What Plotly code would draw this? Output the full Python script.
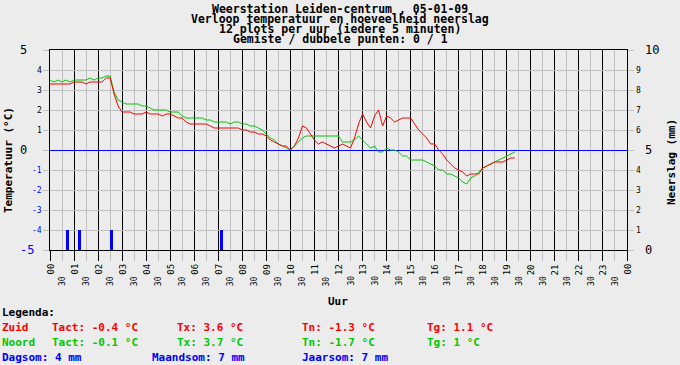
import plotly.graph_objects as go

# ---------------- data ----------------
step_min = 10  # samples every 10 minutes starting 00:00
zuid_temp = [
    3.3, 3.3, 3.3, 3.3, 3.3, 3.3,
    3.4, 3.4, 3.4, 3.3, 3.4, 3.4,
    3.4, 3.4, 3.6, 3.6, 2.8, 2.2,
    1.9, 1.9, 1.9, 1.8, 1.8, 1.8,
    1.9, 1.8, 1.8, 1.8, 1.7, 1.8,
    1.8, 1.7, 1.6, 1.6, 1.4, 1.3,
    1.3, 1.3, 1.3, 1.3, 1.2, 1.1,
    1.1, 1.1, 1.1, 1.1, 1.1, 1.1,
    1.0, 1.0, 0.9, 0.9, 0.8, 0.8,
    0.7, 0.5, 0.4, 0.3, 0.2, 0.2,
    0.0, 0.2, 0.6, 1.2, 1.1, 0.8,
    0.5, 0.3, 0.4, 0.3, 0.2, 0.1,
    0.2, 0.3, 0.2, 0.1, 0.6, 1.3,
    1.8, 1.4, 1.1, 1.7, 2.0, 1.2,
    1.7, 1.6, 1.4, 1.5, 1.6, 1.6,
    1.6, 1.3, 1.0, 0.8, 0.6, 0.3,
    0.3, 0.0, -0.2, -0.5, -0.7, -0.9,
    -1.0, -1.1, -1.3, -1.2, -1.2, -1.2,
    -0.9, -0.8, -0.7, -0.6, -0.6, -0.6,
    -0.5, -0.4, -0.4,
]
noord_temp = [
    3.5, 3.4, 3.5, 3.4, 3.5, 3.4,
    3.5, 3.5, 3.5, 3.5, 3.6, 3.5,
    3.6, 3.6, 3.7, 3.7, 2.9, 2.5,
    2.4, 2.3, 2.3, 2.3, 2.3, 2.2,
    2.2, 2.1, 2.0, 2.0, 2.0, 2.0,
    1.9, 1.9, 1.9, 1.7, 1.6, 1.6,
    1.6, 1.6, 1.6, 1.5, 1.5, 1.4,
    1.4, 1.4, 1.4, 1.3, 1.4, 1.4,
    1.3, 1.3, 1.2, 1.2, 1.1, 1.0,
    0.8, 0.6, 0.5, 0.3, 0.2, 0.1,
    0.0, 0.2, 0.4, 0.6, 0.7, 0.7,
    0.7, 0.7, 0.7, 0.7, 0.7, 0.7,
    0.7, 0.4, 0.4, 0.4, 0.5, 0.7,
    0.5, 0.3, 0.1, 0.2, -0.1, -0.1,
    0.1, 0.0, 0.0, -0.1, -0.3, -0.3,
    -0.5, -0.5, -0.5, -0.5, -0.6, -0.7,
    -0.8, -1.0, -1.0, -1.2, -1.2, -1.3,
    -1.4, -1.6, -1.7, -1.4, -1.3, -1.1,
    -0.9, -0.8, -0.7, -0.6, -0.5, -0.4,
    -0.3, -0.2, -0.1,
]
rain_hours = [0.73, 1.23, 2.56, 7.13]
rain_mm = [1, 1, 1, 1]

hour_labels = ["00", "01", "02", "03", "04", "05", "06", "07", "08", "09", "10", "11",
               "12", "13", "14", "15", "16", "17", "18", "19", "20", "21", "22", "23", "00"]
half_label = "30"
temp_ticks = [5, 4, 3, 2, 1, 0, -1, -2, -3, -4, -5]
rain_ticks = [10, 9, 8, 7, 6, 5, 4, 3, 2, 1, 0]

title_lines = [
    "Weerstation Leiden-centrum , 05-01-09",
    "Verloop temperatuur en hoeveelheid neerslag",
    "12 plots per uur (iedere 5 minuten)",
    "Gemiste / dubbele punten: 0 / 1",
]
RED, GREEN, BLUE = "#ff0000", "#00c800", "#0000ff"
legend_rows = [
    # (text, x_px, y_px, color)
    ("Legenda:", 0, 312, "black"),
    ("Zuid", 0, 327, RED), ("Tact: -0.4 °C", 50, 327, RED),
    ("Tx: 3.6 °C", 175, 327, RED), ("Tn: -1.3 °C", 300, 327, RED),
    ("Tg: 1.1 °C", 425, 327, RED),
    ("Noord", 0, 342, GREEN), ("Tact: -0.1 °C", 50, 342, GREEN),
    ("Tx: 3.7 °C", 175, 342, GREEN), ("Tn: -1.7 °C", 300, 342, GREEN),
    ("Tg: 1 °C", 425, 342, GREEN),
    ("Dagsom: 4 mm", 0, 357, BLUE), ("Maandsom: 7 mm", 150, 357, BLUE),
    ("Jaarsom: 7 mm", 300, 357, BLUE),
]

# ---------------- figure ----------------
W, H = 680, 365
L, R, T, B = 50, 53, 50, 115
PW, PH = W - L - R, H - T - B
BG = "#ececec"
GRID = "#c0c0c0"
MONO = "DejaVu Sans Mono"

hours_z = [i * step_min / 60 for i in range(len(zuid_temp))]
hours_n = [i * step_min / 60 for i in range(len(noord_temp))]

fig = go.Figure()
fig.add_trace(go.Bar(x=rain_hours, y=rain_mm, width=0.125, marker=dict(color=BLUE, line=dict(width=0)),
                     yaxis="y2", showlegend=False, hoverinfo="skip"))
fig.add_trace(go.Scatter(x=hours_n, y=noord_temp, mode="lines", line=dict(color=GREEN, width=1),
                         showlegend=False))
fig.add_trace(go.Scatter(x=hours_z, y=zuid_temp, mode="lines", line=dict(color=RED, width=1),
                         showlegend=False))

ann = []
# title
for i, line in enumerate(title_lines):
    ann.append(dict(text="<b>" + line + "</b>", xref="paper", yref="paper", x=(340 - L) / PW, y=1,
                    yshift=T - (8.5 + 10 * i), xanchor="center", yanchor="middle", showarrow=False,
                    font=dict(family=MONO, size=11.5, color="black")))
# left tick labels
for v in temp_ticks:
    big = abs(v) == 5 or v == 0
    col = BLUE if v < 0 else "black"
    if big:
        ann.append(dict(text=str(v), xref="paper", yref="y", x=0, y=v, xanchor="left", xshift=20 - L - 2,
                        yanchor="middle", showarrow=False, font=dict(family=MONO, size=12, color=col)))
    else:
        ann.append(dict(text=str(v), xref="paper", yref="y", x=0, y=v, xanchor="right", xshift=-6,
                        yanchor="middle", showarrow=False, font=dict(family=MONO, size=8, color=col)))
# right tick labels
for v in rain_ticks:
    big = v in (0, 5, 10)
    if big:
        ann.append(dict(text=str(v), xref="paper", yref="y2", x=1, y=v, xanchor="left", xshift=16,
                        yanchor="middle", showarrow=False, font=dict(family=MONO, size=12, color="black")))
    else:
        ann.append(dict(text=str(v), xref="paper", yref="y2", x=1, y=v, xanchor="left", xshift=7,
                        yanchor="middle", showarrow=False, font=dict(family=MONO, size=8, color="black")))
# x tick labels
for h, lab in enumerate(hour_labels):
    ann.append(dict(text=lab, xref="x", yref="paper", x=h, y=0, yshift=-12, xanchor="center", yanchor="top",
                    textangle=-90, showarrow=False, font=dict(family=MONO, size=9, color="black")))
    if h < 24:
        ann.append(dict(text=half_label, xref="x", yref="paper", x=h + 0.5, y=0, yshift=-24, xanchor="center",
                        yanchor="top", textangle=-90, showarrow=False,
                        font=dict(family=MONO, size=8, color="black")))
# axis titles
ann.append(dict(text="<b>Uur</b>", xref="paper", yref="paper", x=(338 - L) / PW, y=0, yshift=-(301 - (T + PH)),
                xanchor="center", yanchor="middle", showarrow=False, font=dict(family=MONO, size=11, color="black")))
ann.append(dict(text="<b>Temperatuur (°C)</b>", xref="paper", yref="paper", x=0, xshift=8 - L, y=(T + PH - 160) / PH,
                xanchor="center", yanchor="middle", textangle=-90, showarrow=False,
                font=dict(family=MONO, size=11, color="black")))
ann.append(dict(text="<b>Neerslag (mm)</b>", xref="paper", yref="paper", x=1, xshift=671 - (L + PW),
                y=(T + PH - 162) / PH, xanchor="center", yanchor="middle", textangle=-90, showarrow=False,
                font=dict(family=MONO, size=11, color="black")))
# legend text
for text, xp, yp, col in legend_rows:
    ann.append(dict(text="<b>" + text + "</b>", xref="paper", yref="paper", x=0, xshift=xp - L, y=0,
                    yshift=(T + PH) - yp, xanchor="left", yanchor="middle", showarrow=False,
                    font=dict(family=MONO, size=11, color=col)))

fig.update_layout(
    width=W, height=H, margin=dict(l=L, r=R, t=T, b=B, pad=0),
    paper_bgcolor=BG, plot_bgcolor=BG, showlegend=False, bargap=0,
    annotations=ann,
    xaxis=dict(range=[0, 24], dtick=1, tick0=0, showgrid=True, gridcolor="black", gridwidth=1,
               showticklabels=False, ticks="outside", ticklen=10, tickcolor="black", tickwidth=1,
               minor=dict(dtick=0.5, tick0=0, showgrid=True, gridcolor=GRID, ticks="outside", ticklen=10,
                          tickcolor=GRID, tickwidth=1),
               showline=True, linecolor="black", linewidth=1, mirror=True, zeroline=False, fixedrange=True),
    yaxis=dict(range=[-5, 5], dtick=1, tick0=0, showgrid=True, gridcolor=GRID, gridwidth=1,
               showticklabels=False, ticks="outside", ticklen=6, tickcolor=GRID,
               showline=True, linecolor="black", linewidth=1,
               zeroline=True, zerolinecolor=BLUE, zerolinewidth=1, fixedrange=True),
    yaxis2=dict(range=[0, 10], dtick=1, overlaying="y", side="right", showgrid=False,
                showticklabels=False, ticks="outside", ticklen=6, tickcolor=GRID,
                showline=True, linecolor="black", linewidth=1, zeroline=False, fixedrange=True),
)

fig.write_html("out.html", config={"displayModeBar": False},
               post_script="document.body.style.margin='0';document.body.style.padding='0';"
                           "document.body.style.background='" + BG + "';")
